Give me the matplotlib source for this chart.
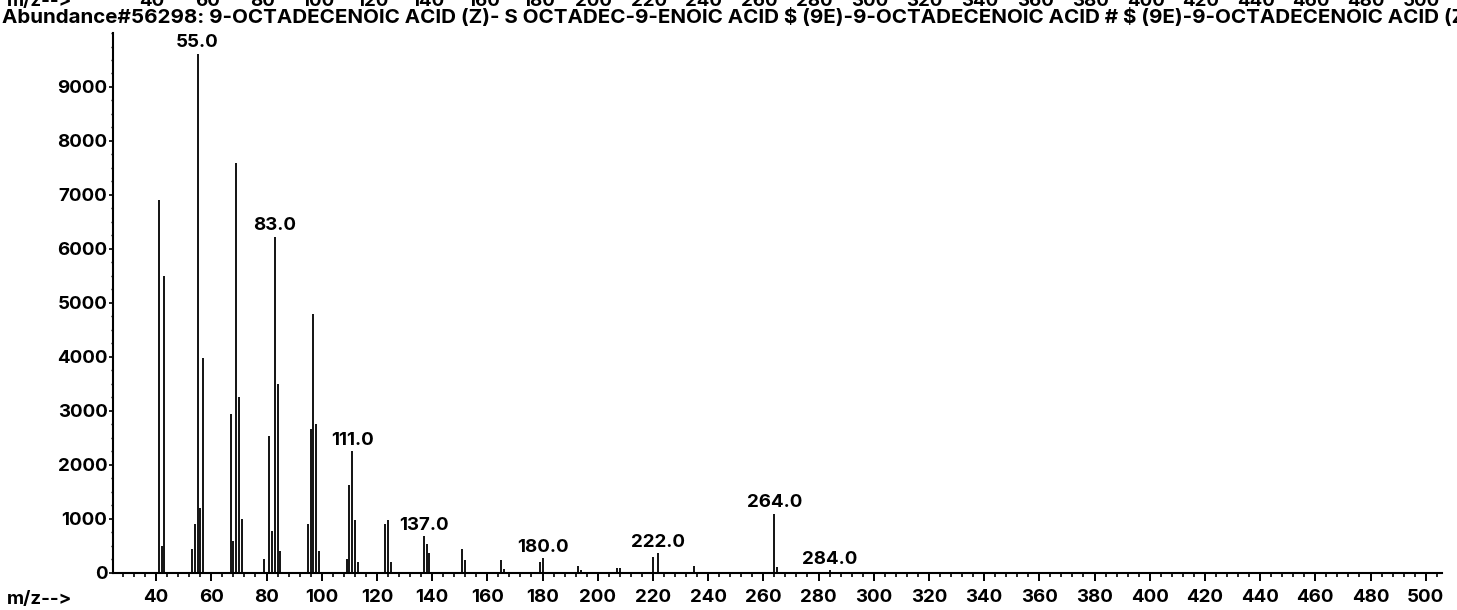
import matplotlib.pyplot as plt
from matplotlib.ticker import MultipleLocator
from matplotlib.transforms import blended_transform_factory

plt.rcParams['font.family'] = ['Inter', 'Liberation Sans', 'DejaVu Sans']
plt.rcParams['font.weight'] = 'bold'

# header text of the library hit (cut off at the right edge, as in the scan)
title = ("Abundance#56298: 9-OCTADECENOIC ACID (Z)- S OCTADEC-9-ENOIC ACID \\$ "
         "(9E)-9-OCTADECENOIC ACID # \\$ (9E)-9-OCTADECENOIC ACID (Z")

# mass spectrum peaks
mz = [41, 42, 43, 53, 54, 55, 56, 57, 67, 68, 69, 70, 71, 79, 81, 82, 83, 84, 85,
      95, 96, 97, 98, 99, 109, 110, 111, 112, 113, 123, 124, 125, 137, 138, 139,
      151, 152, 165, 166, 179, 180, 193, 194, 207, 208, 220, 222, 235, 264, 265, 284]
abundance = [6900, 500, 5500, 450, 900, 9620, 1200, 3990, 2950, 600, 7600, 3250, 1000, 250,
             2530, 770, 6230, 3500, 400,
             900, 2670, 4790, 2750, 400, 250, 1620, 2250, 985, 200, 910, 975, 200, 680, 540, 370,
             450, 234, 234, 80, 200, 285, 120, 60, 90, 90, 300, 370, 120, 1100, 110, 50]

labeled = [55, 83, 111, 137, 180, 222, 264, 284]
xticks = list(range(40, 501, 20))
fs = 13.5

fig = plt.figure(figsize=(14.57, 6.10), dpi=100)
ax = fig.add_axes([0.0776, 0.0607, 0.9121, 0.8852])

ax.vlines(mz, 0, abundance, color='black', linewidth=1.3)

for m in labeled:
    a = abundance[mz.index(m)]
    ax.annotate(f"{m:.1f}", (m, a), xytext=(0, 1.5), textcoords='offset points',
                ha='center', va='bottom', fontsize=fs, fontweight='bold')

ax.set_xlim(24.4, 505.9)
ax.set_ylim(0, 10000)
ax.set_xticks(xticks)
ax.xaxis.set_minor_locator(MultipleLocator(4))
ax.set_yticks(range(0, 10000, 1000))
ax.yaxis.set_minor_locator(MultipleLocator(250))

for s in ['top', 'right']:
    ax.spines[s].set_visible(False)
for s in ['left', 'bottom']:
    ax.spines[s].set_linewidth(1.5)

ax.tick_params(axis='x', which='major', length=6, width=1.4, pad=5.5, labelsize=fs)
ax.tick_params(axis='x', which='minor', length=3, width=1.2)
ax.tick_params(axis='y', which='major', length=3, width=1.2, pad=1, labelsize=fs)
ax.tick_params(axis='y', which='minor', length=1.5, width=1)
for lab in ax.get_xticklabels() + ax.get_yticklabels():
    lab.set_fontweight('bold')

# bottom axis caption
fig.text(7 / 1457, 1 - 599 / 610, "m/z-->", ha='left', va='center',
         fontsize=fs, fontweight='bold')

# title line
fig.text(2 / 1457, 1 - 18 / 610, title, ha='left', va='center',
         fontsize=14.8, fontweight='bold')

# the axis labels of the spectrum above, mostly cut off by the page edge
top = blended_transform_factory(ax.transData, fig.transFigure)
fig.text(7 / 1457, 1 - 6 / 610, "m/z-->", ha='left', va='baseline',
         fontsize=fs, fontweight='bold')
for t in xticks:
    ax.text(t - 1.5, 1 - 6 / 610, str(t), transform=top, ha='center', va='baseline',
            fontsize=fs, fontweight='bold', clip_on=False)

fig.savefig('out.png', dpi=100)
